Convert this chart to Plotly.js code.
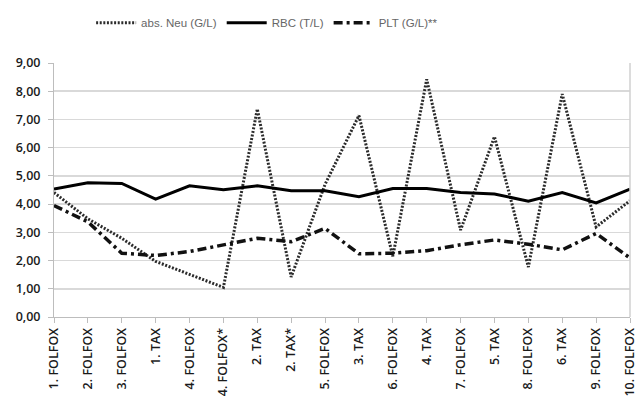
<!DOCTYPE html>
<html>
<head>
<meta charset="utf-8">
<script src="https://cdn.plot.ly/plotly-3.0.1.min.js"></script>
<style>html,body{margin:0;padding:0;background:#fff;}#chart{width:638px;height:414px;}</style>
</head>
<body>
<div id="chart"></div>
<script>
const categories = ["1. FOLFOX","2. FOLFOX","3. FOLFOX","1. TAX","4. FOLFOX","4. FOLFOX*","2. TAX","2. TAX*","5. FOLFOX","3. TAX","6. FOLFOX","4. TAX","7. FOLFOX","5. TAX","8. FOLFOX","6. TAX","9. FOLFOX","10. FOLFOX"];
const neu = [4.41,3.48,2.79,1.97,1.51,1.05,7.37,1.42,4.70,7.14,2.15,8.42,3.08,6.39,1.77,7.90,3.19,4.12];
const rbc = [4.53,4.76,4.73,4.18,4.65,4.51,4.65,4.47,4.47,4.26,4.55,4.55,4.41,4.36,4.10,4.41,4.04,4.53];
const plt = [3.95,3.37,2.26,2.18,2.32,2.56,2.79,2.67,3.14,2.24,2.26,2.35,2.56,2.73,2.58,2.38,2.96,2.09];
const seriesNames = ["abs. Neu (G/L)","RBC (T/L)","PLT (G/L)**"];
const yTicks = [0,1,2,3,4,5,6,7,8,9];

const traces = [
  {x: categories, y: neu, name: seriesNames[0], type: "scatter", mode: "lines",
   line: {color: "#2b2b2b", width: 3, dash: "2px,1.6px"}},
  {x: categories, y: rbc, name: seriesNames[1], type: "scatter", mode: "lines",
   line: {color: "#000", width: 3}},
  {x: categories, y: plt, name: seriesNames[2], type: "scatter", mode: "lines",
   line: {color: "#111", width: 3.5, dash: "9px,4px,3px,4px"}}
];

const tickFont = {family: "Open Sans", size: 12.5, color: "#1a1a1a", weight: 600};

const layout = {
  width: 638, height: 414,
  margin: {l: 54, r: 8, t: 58, b: 97},
  paper_bgcolor: "#fff", plot_bgcolor: "#fff",
  separators: ",.",
  showlegend: true,
  legend: {orientation: "h", x: 0.37, xanchor: "center", y: 1.158, yanchor: "middle",
           font: {family: "Liberation Sans Narrow, Arial Narrow, Liberation Sans", size: 11.5, color: "#666"},
           itemwidth: 40, tracegroupgap: 0},
  xaxis: {type: "category", range: [0, categories.length - 1],
          tickangle: -90, ticks: "outside", ticklen: 5, tickcolor: "#bdbdbd", tickwidth: 1,
          showline: true, linecolor: "#bdbdbd", linewidth: 1, showgrid: false, zeroline: false,
          tickfont: tickFont},
  yaxis: {range: [0, 9], tickvals: yTicks, tickformat: ".2f",
          ticks: "outside", ticklen: 5, tickcolor: "#bdbdbd", ticklabelstandoff: 5,
          showline: true, linecolor: "#bdbdbd", linewidth: 1,
          showgrid: true, gridcolor: "#d9d9d9", gridwidth: 1.5, zeroline: false,
          tickfont: tickFont},
  shapes: [{type: "line", xref: "paper", yref: "paper", x0: 1, x1: 1, y0: 0, y1: 1,
            line: {color: "#d0d0d0", width: 1.5}}]
};

Plotly.newPlot("chart", traces, layout, {displayModeBar: false, staticPlot: true});
</script>
</body>
</html>
